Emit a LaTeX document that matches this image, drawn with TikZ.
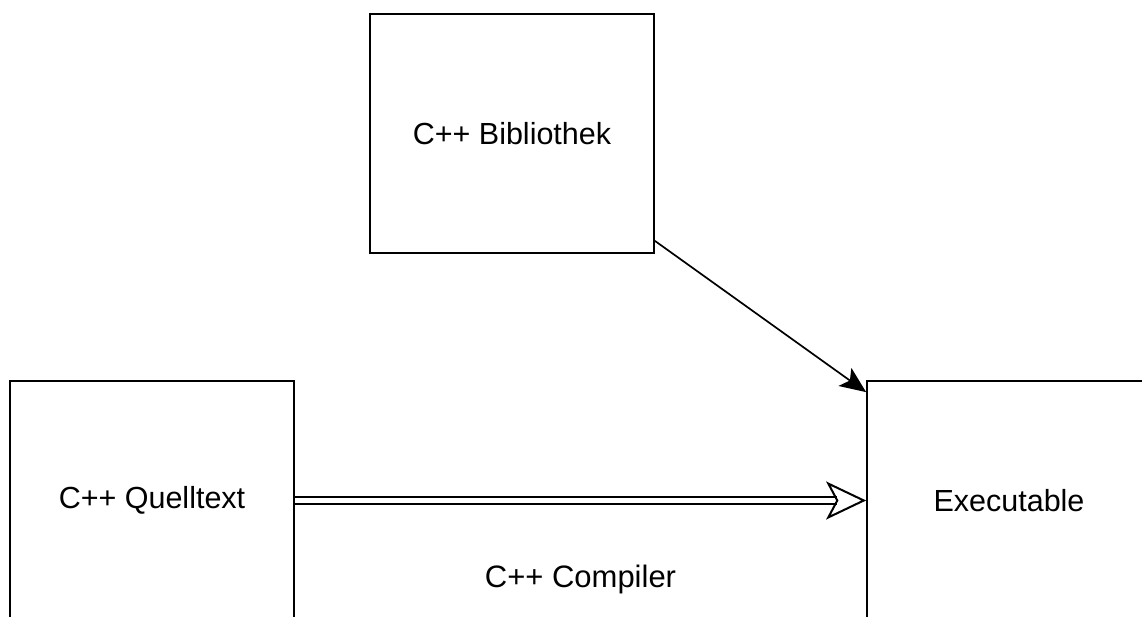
\documentclass[tikz,border=0pt]{standalone}
\usepackage{fontspec}
\setmainfont{Liberation Sans}
\usetikzlibrary{arrows.meta, positioning}

\begin{document}
\begin{tikzpicture}[x=1pt, y=-1pt,
    block/.style={draw, line width=1.7pt, minimum width=284pt, minimum height=239pt,
        inner sep=0pt, font=\fontsize{30.5}{36}\selectfont},
    link/.style={line width=1.7pt, -{Stealth[length=26pt, width=22pt, inset=6pt]}},
    build/.style={line width=2pt, double distance=5.3pt,
        -{Stealth[open, length=40pt, width=38pt, inset=10pt]}}
]
    \useasboundingbox (0, 0) rectangle (1142, 617);
    \clip (0, 0) rectangle (1142, 617);
    \node[block] (bib) at (512, 133.5) {C++ Bibliothek};
    \node[block] (src) at (152, 500.5) {C++ Quelltext};
    \node[block] (exe) at (1009, 500.5) {Executable};
    \draw[link] ([yshift=13pt]bib.south east) -- ([yshift=-12pt]exe.north west);
    \draw[build] (src) -- node[midway, yshift=-79pt, font=\fontsize{31}{36}\selectfont] (cc) {C++ Compiler} (exe);
\end{tikzpicture}
\end{document}
